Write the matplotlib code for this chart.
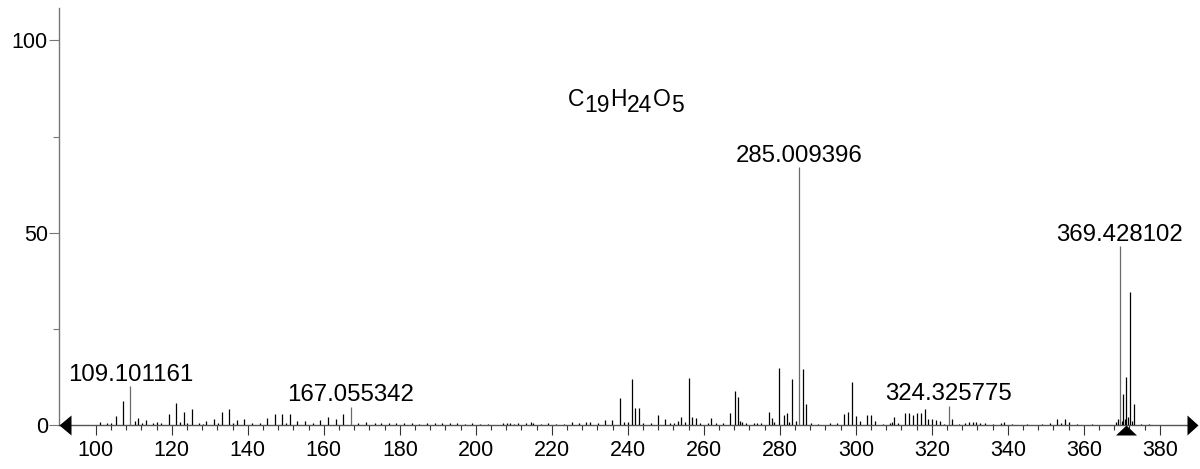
import matplotlib
matplotlib.use("Agg")
import matplotlib.pyplot as plt
import numpy as np

plt.rcParams['font.family'] = ['Liberation Sans', 'DejaVu Sans']

# ---- data ----
mz = [101.0, 103.0, 104.1, 105.2, 107.2, 109.1, 110.3, 111.1, 112.1, 113.2, 115.0, 116.0, 117.1,
      119.2, 121.1, 122.1, 123.2, 124.1, 125.2, 127.1, 128.1, 129.1, 131.1, 132.1, 133.2, 135.1,
      136.1, 137.1, 139.1, 141.1, 143.1, 145.1, 147.1, 149.1, 150.1, 151.0, 153.0, 155.1, 157.1,
      159.1, 161.1, 163.1, 165.1, 167.1, 169.1, 171.1, 173.4, 175.1, 177.1, 179.1, 181.1, 183.1,
      185.1, 187.1, 189.2, 191.1, 193.2, 195.1, 197.1, 199.1, 201.1, 203.1, 207.1, 208.1, 209.1,
      210.1, 211.1, 213.1, 214.5, 215.1, 217.1, 219.1, 221.1, 223.1, 225.2, 227.1, 229.1, 230.0,
      232.2, 234.1, 235.9, 237.9, 239.1, 240.0, 241.2, 242.0, 243.0, 244.0, 246.0, 247.9, 249.9,
      251.1, 252.1, 253.1, 254.0, 255.1, 256.0, 256.9, 257.9, 259.1, 261.0, 261.8, 263.1, 265.1,
      267.0, 268.2, 269.0, 269.5, 270.1, 271.1, 273.1, 274.1, 275.1, 277.2, 277.9, 278.5, 279.9,
      281.0, 281.9, 282.5, 283.3, 284.2, 285.1, 286.1, 287.0, 288.1, 290.1, 293.1, 295.1, 296.9,
      298.0, 299.0, 300.1, 301.1, 303.0, 304.0, 305.0, 307.1, 309.1, 309.6, 310.1, 311.1, 313.0,
      314.0, 315.1, 316.1, 317.1, 318.1, 319.1, 320.1, 321.1, 322.1, 323.1, 324.4, 325.3, 327.1,
      328.7, 329.7, 330.7, 331.6, 332.6, 334.1, 336.1, 338.1, 339.0, 341.1, 345.1, 349.1, 351.1,
      353.0, 354.1, 355.0, 356.1, 358.1, 362.1, 368.5, 369.0, 369.5, 370.1, 370.4, 370.8, 371.1,
      371.6, 372.2, 372.7, 373.2, 375.1, 377.1]
intensity = [0.8, 0.5, 0.6, 2.3, 6.2, 10.1, 1.0, 1.7, 0.6, 1.3, 0.4, 0.8, 0.4,
             2.8, 5.7, 0.8, 3.4, 0.6, 4.2, 0.6, 0.3, 1.0, 1.5, 0.5, 3.3, 4.2,
             0.5, 1.2, 1.5, 0.5, 0.6, 1.8, 2.9, 2.8, 0.6, 2.8, 1.0, 1.0, 0.5,
             1.3, 2.2, 1.5, 2.9, 4.7, 0.6, 0.8, 0.6, 0.5, 0.4, 0.6, 0.5, 0.4,
             0.3, 0.5, 0.6, 0.4, 0.6, 0.4, 0.3, 0.4, 0.3, 0.3, 0.5, 0.4, 0.5,
             0.3, 0.5, 0.4, 0.8, 0.5, 0.3, 0.4, 0.3, 0.3, 0.7, 0.5, 0.8, 0.8,
             0.6, 1.2, 1.2, 6.9, 0.8, 0.8, 11.9, 4.3, 4.3, 0.5, 0.4, 2.5, 1.5,
             0.5, 0.4, 1.0, 2.0, 0.8, 12.2, 2.0, 1.9, 0.6, 0.6, 1.9, 0.4, 0.4,
             3.0, 8.9, 7.3, 1.0, 0.8, 0.4, 0.4, 0.5, 0.4, 3.3, 1.8, 0.8, 14.8,
             2.6, 3.0, 0.8, 12.0, 1.0, 67.0, 14.6, 5.5, 0.4, 0.3, 0.4, 0.4, 2.9,
             3.3, 11.3, 2.3, 1.0, 2.7, 2.6, 1.0, 0.3, 0.5, 0.8, 2.2, 0.5, 3.2,
             3.2, 2.5, 3.1, 3.1, 4.1, 1.5, 1.5, 1.2, 1.0, 0.3, 5.0, 1.5, 0.3,
             0.6, 0.8, 0.9, 0.9, 0.6, 0.6, 0.3, 0.6, 0.9, 0.3, 0.3, 0.3, 0.6,
             1.5, 0.5, 1.6, 0.8, 0.3, 0.3, 0.8, 1.5, 46.5, 1.0, 8.1, 1.5, 12.4,
             2.0, 34.5, 1.0, 5.5, 0.3, 0.3]

label_mz = [109.1, 167.1, 285.1, 324.4, 369.5]
label_text = ["109.101161", "167.055342", "285.009396", "324.325775", "369.428102"]
precursor_mz = 371.1
formula_parts = [("C", False), ("19", True), ("H", False), ("24", True), ("O", False), ("5", True)]

x_major = list(range(100, 381, 20))
x_minor = list(range(104, 377, 4))
y_major = [0, 50, 100]
y_minor = [25, 75]

# ---- figure ----
W, H = 1200, 469
fig = plt.figure(figsize=(W / 100, H / 100), dpi=100)
left_px, right_px, top_px, bottom_px = 59, 1187, 8, 425
ax = fig.add_axes([left_px / W, (H - bottom_px) / H,
                   (right_px - left_px) / W, (bottom_px - top_px) / H])

xmin = 90.3
xmax = xmin + (right_px - left_px) / 3.8
ax.set_xlim(xmin, xmax)
ax.set_ylim(0, (bottom_px - top_px) / 3.846)

label_set = set(label_mz)
colors = ['#6a6a6a' if m in label_set else '#000000' for m in mz]
ax.vlines(mz, 0, intensity, colors=colors, linewidth=0.9, zorder=3)

inten_of = dict(zip(mz, intensity))
for m, t in zip(label_mz, label_text):
    ax.annotate(t, xy=(m, inten_of[m]), xytext=(0, 4), textcoords='offset points',
                ha='center', va='baseline', fontsize=17.3, color='black')

# formula with same-size lowered subscripts
prev = ax.text(0.451, 0.765, formula_parts[0][0], transform=ax.transAxes,
               fontsize=16.5, ha='left', va='baseline')
prev_sub = False
for txt, sub in formula_parts[1:]:
    dy = 0
    if sub and not prev_sub:
        dy = -4.5
    elif not sub and prev_sub:
        dy = 4.5
    prev = ax.annotate(txt, xy=(1, 0), xycoords=prev, xytext=(0.3, dy),
                       textcoords='offset points', fontsize=16.5,
                       ha='left', va='bottom')
    prev_sub = sub

# spines
for s in ['top', 'right']:
    ax.spines[s].set_visible(False)
ax.spines['left'].set_color('#777777')
ax.spines['left'].set_linewidth(1.0)
ax.spines['bottom'].set_color('#555555')
ax.spines['bottom'].set_linewidth(1.0)

ax.set_xticks(x_major)
ax.set_xticks(x_minor, minor=True)
ax.set_yticks(y_major)
ax.set_yticks(y_minor, minor=True)
ax.tick_params(axis='x', which='major', length=7.2, width=0.8, color='#333333',
               pad=3.5, labelsize=15.5)
ax.tick_params(axis='x', which='minor', length=3.6, width=0.8, color='#333333')
ax.tick_params(axis='y', which='major', length=7.5, width=0.8, color='#777777',
               pad=0.5, labelsize=15.5)
ax.tick_params(axis='y', which='minor', length=4, width=0.8, color='#777777')

# arrows and precursor marker
left_arrow = [(0, 0), (12, 10), (12, -10)]
right_arrow = [(0, 10), (0, -10), (11, 0)]
prec_marker = [(0, 0), (-10.5, -10), (10.5, -10)]
ax.plot([xmin], [0], marker=left_arrow, markersize=24 * 0.72, color='black',
        markeredgewidth=0, clip_on=False, zorder=5)
ax.plot([xmax], [0], marker=right_arrow, markersize=22 * 0.72, color='black',
        markeredgewidth=0, clip_on=False, zorder=5)
ax.plot([precursor_mz], [0], marker=prec_marker, markersize=21 * 0.72, color='black',
        markeredgewidth=0, clip_on=False, zorder=5)

fig.savefig('out.png', dpi=100)
